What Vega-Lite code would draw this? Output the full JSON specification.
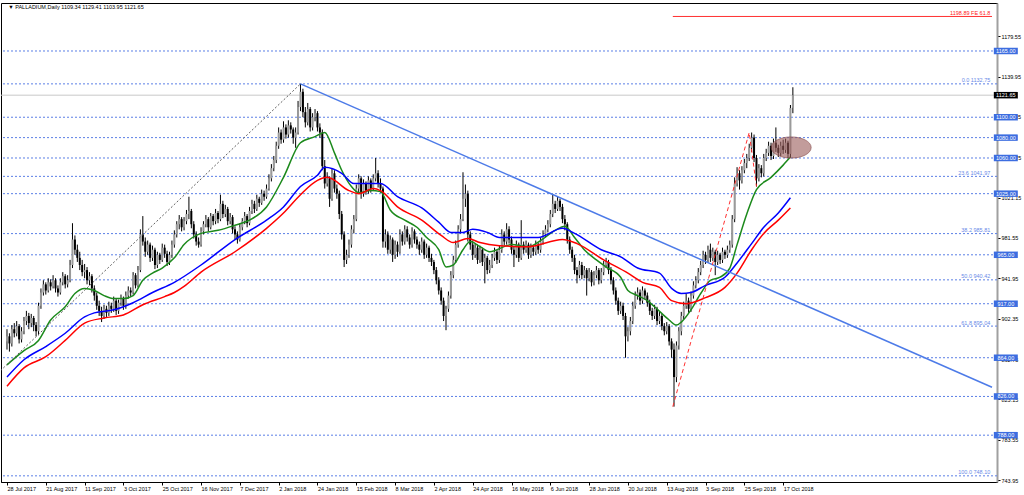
{
"$schema": "https://vega.github.io/schema/vega-lite/v6.json",
"width": 996, "height": 479,
"autosize": {"type": "none"},
"padding": {"left": 1, "top": 3, "right": 27, "bottom": 13},
"background": "#ffffff",
"config": {"view": {"stroke": "#000000", "strokeWidth": 1}, "font": "Liberation Sans", "axis": {"titleOpacity": 0, "titleFontSize": 1, "titlePadding": 0}},
"datasets": {
"bars": [
{"i":0,"o":880,"h":892,"l":872,"c":885},{"i":1,"o":885,"h":888,"l":870,"c":878},{"i":2,"o":878,"h":896,"l":875,"c":892},{"i":3,"o":892,"h":898,"l":884,"c":888},{"i":4,"o":888,"h":900,"l":885,"c":895},{"i":5,"o":895,"h":897,"l":878,"c":882},{"i":6,"o":882,"h":894,"l":879,"c":890},{"i":7,"o":890,"h":904,"l":887,"c":900},{"i":8,"o":900,"h":910,"l":896,"c":905},{"i":9,"o":905,"h":908,"l":892,"c":898},
{"i":10,"o":898,"h":907,"l":894,"c":903},{"i":11,"o":903,"h":905,"l":890,"c":896},{"i":12,"o":896,"h":899,"l":885,"c":890},{"i":13,"o":890,"h":918,"l":886,"c":915},{"i":14,"o":915,"h":932,"l":912,"c":928},{"i":15,"o":928,"h":940,"l":925,"c":936},{"i":16,"o":936,"h":938,"l":926,"c":930},{"i":17,"o":930,"h":942,"l":928,"c":938},{"i":18,"o":938,"h":941,"l":930,"c":934},{"i":19,"o":934,"h":945,"l":932,"c":940},
{"i":20,"o":940,"h":942,"l":928,"c":932},{"i":21,"o":932,"h":935,"l":924,"c":928},{"i":22,"o":928,"h":942,"l":926,"c":938},{"i":23,"o":938,"h":948,"l":935,"c":944},{"i":24,"o":944,"h":946,"l":932,"c":936},{"i":25,"o":936,"h":945,"l":933,"c":940},{"i":26,"o":940,"h":960,"l":938,"c":955},{"i":27,"o":955,"h":996,"l":952,"c":980},{"i":28,"o":980,"h":984,"l":965,"c":970},{"i":29,"o":970,"h":975,"l":958,"c":962},
{"i":30,"o":962,"h":968,"l":950,"c":955},{"i":31,"o":955,"h":960,"l":944,"c":948},{"i":32,"o":948,"h":956,"l":942,"c":950},{"i":33,"o":950,"h":953,"l":936,"c":940},{"i":34,"o":940,"h":948,"l":935,"c":944},{"i":35,"o":944,"h":946,"l":928,"c":932},{"i":36,"o":932,"h":935,"l":920,"c":925},{"i":37,"o":925,"h":928,"l":911,"c":915},{"i":38,"o":915,"h":920,"l":905,"c":910},{"i":39,"o":910,"h":914,"l":899,"c":905},
{"i":40,"o":905,"h":916,"l":902,"c":912},{"i":41,"o":912,"h":915,"l":904,"c":908},{"i":42,"o":908,"h":919,"l":905,"c":915},{"i":43,"o":915,"h":918,"l":908,"c":912},{"i":44,"o":912,"h":924,"l":909,"c":920},{"i":45,"o":920,"h":922,"l":906,"c":910},{"i":46,"o":910,"h":921,"l":907,"c":918},{"i":47,"o":918,"h":926,"l":915,"c":922},{"i":48,"o":922,"h":924,"l":911,"c":915},{"i":49,"o":915,"h":929,"l":912,"c":925},
{"i":50,"o":925,"h":934,"l":922,"c":930},{"i":51,"o":930,"h":933,"l":924,"c":928},{"i":52,"o":928,"h":948,"l":926,"c":945},{"i":53,"o":945,"h":947,"l":932,"c":935},{"i":54,"o":935,"h":954,"l":933,"c":950},{"i":55,"o":950,"h":990,"l":948,"c":985},{"i":56,"o":985,"h":1003,"l":974,"c":978},{"i":57,"o":978,"h":982,"l":963,"c":968},{"i":58,"o":968,"h":979,"l":965,"c":975},{"i":59,"o":975,"h":977,"l":958,"c":962},
{"i":60,"o":962,"h":974,"l":959,"c":970},{"i":61,"o":970,"h":972,"l":951,"c":955},{"i":62,"o":955,"h":968,"l":952,"c":965},{"i":63,"o":965,"h":967,"l":956,"c":960},{"i":64,"o":960,"h":976,"l":958,"c":972},{"i":65,"o":972,"h":975,"l":962,"c":966},{"i":66,"o":966,"h":969,"l":954,"c":958},{"i":67,"o":958,"h":968,"l":955,"c":965},{"i":68,"o":965,"h":979,"l":962,"c":975},{"i":69,"o":975,"h":989,"l":972,"c":985},
{"i":70,"o":985,"h":998,"l":982,"c":995},{"i":71,"o":995,"h":1004,"l":990,"c":1000},{"i":72,"o":1000,"h":1002,"l":988,"c":992},{"i":73,"o":992,"h":1002,"l":989,"c":998},{"i":74,"o":998,"h":1009,"l":995,"c":1005},{"i":75,"o":1005,"h":1022,"l":1000,"c":1008},{"i":76,"o":1008,"h":1010,"l":991,"c":995},{"i":77,"o":995,"h":998,"l":981,"c":985},{"i":78,"o":985,"h":988,"l":974,"c":978},{"i":79,"o":978,"h":982,"l":972,"c":975},
{"i":80,"o":975,"h":992,"l":973,"c":988},{"i":81,"o":988,"h":998,"l":985,"c":995},{"i":82,"o":995,"h":1004,"l":992,"c":1000},{"i":83,"o":1000,"h":1002,"l":988,"c":992},{"i":84,"o":992,"h":1006,"l":990,"c":1003},{"i":85,"o":1003,"h":1005,"l":994,"c":998},{"i":86,"o":998,"h":1010,"l":995,"c":1006},{"i":87,"o":1006,"h":1008,"l":996,"c":1000},{"i":88,"o":1000,"h":1024,"l":998,"c":1015},{"i":89,"o":1015,"h":1018,"l":1001,"c":1005},
{"i":90,"o":1005,"h":1014,"l":1002,"c":1010},{"i":91,"o":1010,"h":1012,"l":994,"c":998},{"i":92,"o":998,"h":1006,"l":995,"c":1002},{"i":93,"o":1002,"h":1004,"l":986,"c":990},{"i":94,"o":990,"h":993,"l":980,"c":985},{"i":95,"o":985,"h":988,"l":976,"c":980},{"i":96,"o":980,"h":996,"l":978,"c":992},{"i":97,"o":992,"h":1001,"l":989,"c":998},{"i":98,"o":998,"h":1007,"l":995,"c":1003},{"i":99,"o":1003,"h":1005,"l":992,"c":996},
{"i":100,"o":996,"h":1012,"l":994,"c":1008},{"i":101,"o":1008,"h":1019,"l":1005,"c":1015},{"i":102,"o":1015,"h":1018,"l":1006,"c":1010},{"i":103,"o":1010,"h":1024,"l":1008,"c":1020},{"i":104,"o":1020,"h":1022,"l":1012,"c":1016},{"i":105,"o":1016,"h":1029,"l":1014,"c":1025},{"i":106,"o":1025,"h":1028,"l":1018,"c":1022},{"i":107,"o":1022,"h":1034,"l":1020,"c":1030},{"i":108,"o":1030,"h":1044,"l":1028,"c":1040},{"i":109,"o":1040,"h":1054,"l":1037,"c":1050},
{"i":110,"o":1050,"h":1062,"l":1047,"c":1058},{"i":111,"o":1058,"h":1076,"l":1055,"c":1072},{"i":112,"o":1072,"h":1090,"l":1069,"c":1085},{"i":113,"o":1085,"h":1088,"l":1074,"c":1078},{"i":114,"o":1078,"h":1096,"l":1075,"c":1090},{"i":115,"o":1090,"h":1093,"l":1079,"c":1083},{"i":116,"o":1083,"h":1097,"l":1080,"c":1092},{"i":117,"o":1092,"h":1095,"l":1084,"c":1088},{"i":118,"o":1088,"h":1090,"l":1074,"c":1080},{"i":119,"o":1080,"h":1090,"l":1070,"c":1085},
{"i":120,"o":1085,"h":1116,"l":1083,"c":1110},{"i":121,"o":1110,"h":1132.75,"l":1106,"c":1125},{"i":122,"o":1125,"h":1128,"l":1100,"c":1105},{"i":123,"o":1105,"h":1110,"l":1090,"c":1095},{"i":124,"o":1095,"h":1114,"l":1092,"c":1108},{"i":125,"o":1108,"h":1110,"l":1086,"c":1090},{"i":126,"o":1090,"h":1104,"l":1087,"c":1100},{"i":127,"o":1100,"h":1108,"l":1096,"c":1104},{"i":128,"o":1104,"h":1106,"l":1086,"c":1090},{"i":129,"o":1090,"h":1094,"l":1080,"c":1085},
{"i":130,"o":1085,"h":1088,"l":1048,"c":1052},{"i":131,"o":1052,"h":1058,"l":1030,"c":1035},{"i":132,"o":1035,"h":1046,"l":1032,"c":1040},{"i":133,"o":1040,"h":1042,"l":1012,"c":1020},{"i":134,"o":1020,"h":1050,"l":1018,"c":1045},{"i":135,"o":1045,"h":1048,"l":1026,"c":1030},{"i":136,"o":1030,"h":1034,"l":1020,"c":1025},{"i":137,"o":1025,"h":1028,"l":1000,"c":1005},{"i":138,"o":1005,"h":1008,"l":980,"c":985},{"i":139,"o":985,"h":988,"l":953,"c":960},
{"i":140,"o":960,"h":970,"l":956,"c":965},{"i":141,"o":965,"h":980,"l":962,"c":975},{"i":142,"o":975,"h":994,"l":972,"c":990},{"i":143,"o":990,"h":1004,"l":986,"c":1000},{"i":144,"o":1000,"h":1034,"l":998,"c":1030},{"i":145,"o":1030,"h":1044,"l":1026,"c":1040},{"i":146,"o":1040,"h":1042,"l":1020,"c":1025},{"i":147,"o":1025,"h":1039,"l":1022,"c":1035},{"i":148,"o":1035,"h":1037,"l":1024,"c":1028},{"i":149,"o":1028,"h":1042,"l":1025,"c":1038},
{"i":150,"o":1038,"h":1040,"l":1026,"c":1030},{"i":151,"o":1030,"h":1044,"l":1028,"c":1040},{"i":152,"o":1040,"h":1060,"l":1037,"c":1045},{"i":153,"o":1045,"h":1048,"l":1031,"c":1035},{"i":154,"o":1035,"h":1040,"l":1026,"c":1030},{"i":155,"o":1030,"h":1032,"l":972,"c":978},{"i":156,"o":978,"h":990,"l":972,"c":985},{"i":157,"o":985,"h":988,"l":966,"c":970},{"i":158,"o":970,"h":984,"l":966,"c":980},{"i":159,"o":980,"h":982,"l":958,"c":965},
{"i":160,"o":965,"h":979,"l":961,"c":975},{"i":161,"o":975,"h":978,"l":963,"c":968},{"i":162,"o":968,"h":990,"l":966,"c":985},{"i":163,"o":985,"h":988,"l":974,"c":978},{"i":164,"o":978,"h":994,"l":975,"c":990},{"i":165,"o":990,"h":993,"l":978,"c":982},{"i":166,"o":982,"h":985,"l":971,"c":975},{"i":167,"o":975,"h":992,"l":972,"c":988},{"i":168,"o":988,"h":990,"l":976,"c":980},{"i":169,"o":980,"h":983,"l":971,"c":975},
{"i":170,"o":975,"h":978,"l":965,"c":970},{"i":171,"o":970,"h":982,"l":967,"c":978},{"i":172,"o":978,"h":980,"l":961,"c":965},{"i":173,"o":965,"h":976,"l":962,"c":972},{"i":174,"o":972,"h":974,"l":958,"c":962},{"i":175,"o":962,"h":966,"l":954,"c":958},{"i":176,"o":958,"h":960,"l":946,"c":950},{"i":177,"o":950,"h":953,"l":936,"c":940},{"i":178,"o":940,"h":943,"l":926,"c":930},{"i":179,"o":930,"h":933,"l":916,"c":920},
{"i":180,"o":920,"h":923,"l":900,"c":905},{"i":181,"o":905,"h":915,"l":891,"c":912},{"i":182,"o":912,"h":929,"l":909,"c":925},{"i":183,"o":925,"h":949,"l":922,"c":945},{"i":184,"o":945,"h":964,"l":942,"c":960},{"i":185,"o":960,"h":979,"l":957,"c":975},{"i":186,"o":975,"h":994,"l":972,"c":990},{"i":187,"o":990,"h":1005,"l":986,"c":1000},{"i":188,"o":1000,"h":1046,"l":998,"c":1020},{"i":189,"o":1020,"h":1034,"l":1012,"c":1025},
{"i":190,"o":1025,"h":1028,"l":978,"c":985},{"i":191,"o":985,"h":988,"l":970,"c":975},{"i":192,"o":975,"h":979,"l":960,"c":965},{"i":193,"o":965,"h":976,"l":962,"c":972},{"i":194,"o":972,"h":975,"l":956,"c":960},{"i":195,"o":960,"h":974,"l":957,"c":970},{"i":196,"o":970,"h":972,"l":954,"c":958},{"i":197,"o":958,"h":966,"l":937,"c":962},{"i":198,"o":962,"h":964,"l":946,"c":950},{"i":199,"o":950,"h":960,"l":947,"c":955},
{"i":200,"o":955,"h":966,"l":952,"c":962},{"i":201,"o":962,"h":972,"l":959,"c":968},{"i":202,"o":968,"h":970,"l":956,"c":960},{"i":203,"o":960,"h":974,"l":957,"c":970},{"i":204,"o":970,"h":990,"l":967,"c":985},{"i":205,"o":985,"h":988,"l":974,"c":978},{"i":206,"o":978,"h":996,"l":975,"c":990},{"i":207,"o":990,"h":993,"l":976,"c":980},{"i":208,"o":980,"h":983,"l":966,"c":970},{"i":209,"o":970,"h":973,"l":953,"c":965},
{"i":210,"o":965,"h":979,"l":962,"c":975},{"i":211,"o":975,"h":977,"l":958,"c":962},{"i":212,"o":962,"h":999,"l":960,"c":975},{"i":213,"o":975,"h":978,"l":966,"c":970},{"i":214,"o":970,"h":979,"l":967,"c":975},{"i":215,"o":975,"h":977,"l":961,"c":965},{"i":216,"o":965,"h":976,"l":962,"c":972},{"i":217,"o":972,"h":974,"l":964,"c":968},{"i":218,"o":968,"h":979,"l":965,"c":975},{"i":219,"o":975,"h":977,"l":966,"c":970},
{"i":220,"o":970,"h":982,"l":967,"c":978},{"i":221,"o":978,"h":989,"l":975,"c":985},{"i":222,"o":985,"h":994,"l":982,"c":990},{"i":223,"o":990,"h":999,"l":987,"c":995},{"i":224,"o":995,"h":1009,"l":992,"c":1005},{"i":225,"o":1005,"h":1024,"l":1002,"c":1015},{"i":226,"o":1015,"h":1018,"l":1006,"c":1010},{"i":227,"o":1010,"h":1022,"l":1008,"c":1018},{"i":228,"o":1018,"h":1020,"l":1008,"c":1012},{"i":229,"o":1012,"h":1015,"l":996,"c":1000},
{"i":230,"o":1000,"h":1004,"l":989,"c":995},{"i":231,"o":995,"h":997,"l":976,"c":980},{"i":232,"o":980,"h":983,"l":966,"c":970},{"i":233,"o":970,"h":973,"l":958,"c":962},{"i":234,"o":962,"h":965,"l":946,"c":950},{"i":235,"o":950,"h":953,"l":937,"c":945},{"i":236,"o":945,"h":959,"l":942,"c":955},{"i":237,"o":955,"h":958,"l":941,"c":945},{"i":238,"o":945,"h":954,"l":942,"c":950},{"i":239,"o":950,"h":952,"l":925,"c":942},
{"i":240,"o":942,"h":952,"l":939,"c":948},{"i":241,"o":948,"h":950,"l":934,"c":938},{"i":242,"o":938,"h":949,"l":935,"c":945},{"i":243,"o":945,"h":954,"l":942,"c":950},{"i":244,"o":950,"h":952,"l":936,"c":940},{"i":245,"o":940,"h":952,"l":937,"c":948},{"i":246,"o":948,"h":959,"l":945,"c":955},{"i":247,"o":955,"h":962,"l":952,"c":958},{"i":248,"o":958,"h":960,"l":946,"c":950},{"i":249,"o":950,"h":953,"l":936,"c":940},
{"i":250,"o":940,"h":943,"l":926,"c":930},{"i":251,"o":930,"h":933,"l":916,"c":920},{"i":252,"o":920,"h":923,"l":906,"c":910},{"i":253,"o":910,"h":919,"l":907,"c":915},{"i":254,"o":915,"h":918,"l":901,"c":905},{"i":255,"o":905,"h":908,"l":864,"c":885},{"i":256,"o":885,"h":894,"l":880,"c":890},{"i":257,"o":890,"h":904,"l":886,"c":900},{"i":258,"o":900,"h":919,"l":897,"c":915},{"i":259,"o":915,"h":929,"l":912,"c":925},
{"i":260,"o":925,"h":933,"l":921,"c":928},{"i":261,"o":928,"h":931,"l":916,"c":920},{"i":262,"o":920,"h":934,"l":917,"c":930},{"i":263,"o":930,"h":932,"l":921,"c":925},{"i":264,"o":925,"h":928,"l":914,"c":918},{"i":265,"o":918,"h":921,"l":906,"c":910},{"i":266,"o":910,"h":913,"l":901,"c":905},{"i":267,"o":905,"h":916,"l":902,"c":912},{"i":268,"o":912,"h":914,"l":896,"c":900},{"i":269,"o":900,"h":909,"l":897,"c":905},
{"i":270,"o":905,"h":907,"l":891,"c":895},{"i":271,"o":895,"h":898,"l":886,"c":890},{"i":272,"o":890,"h":899,"l":887,"c":895},{"i":273,"o":895,"h":897,"l":876,"c":880},{"i":274,"o":880,"h":883,"l":864,"c":872},{"i":275,"o":872,"h":878,"l":816,"c":845},{"i":276,"o":845,"h":880,"l":840,"c":876},{"i":277,"o":876,"h":894,"l":872,"c":890},{"i":278,"o":890,"h":909,"l":886,"c":905},{"i":279,"o":905,"h":919,"l":902,"c":915},
{"i":280,"o":915,"h":927,"l":912,"c":920},{"i":281,"o":920,"h":923,"l":908,"c":912},{"i":282,"o":912,"h":929,"l":909,"c":925},{"i":283,"o":925,"h":939,"l":922,"c":935},{"i":284,"o":935,"h":944,"l":932,"c":940},{"i":285,"o":940,"h":952,"l":937,"c":948},{"i":286,"o":948,"h":959,"l":945,"c":955},{"i":287,"o":955,"h":969,"l":952,"c":965},{"i":288,"o":965,"h":968,"l":956,"c":960},{"i":289,"o":960,"h":974,"l":957,"c":970},
{"i":290,"o":970,"h":976,"l":958,"c":962},{"i":291,"o":962,"h":972,"l":959,"c":968},{"i":292,"o":968,"h":970,"l":945,"c":958},{"i":293,"o":958,"h":969,"l":955,"c":965},{"i":294,"o":965,"h":967,"l":956,"c":960},{"i":295,"o":960,"h":972,"l":957,"c":968},{"i":296,"o":968,"h":970,"l":961,"c":965},{"i":297,"o":965,"h":974,"l":962,"c":970},{"i":298,"o":970,"h":979,"l":967,"c":975},{"i":299,"o":975,"h":1004,"l":972,"c":1000},
{"i":300,"o":1000,"h":1041,"l":997,"c":1035},{"i":301,"o":1035,"h":1051,"l":1032,"c":1045},{"i":302,"o":1045,"h":1048,"l":1029,"c":1038},{"i":303,"o":1038,"h":1052,"l":1035,"c":1048},{"i":304,"o":1048,"h":1059,"l":1045,"c":1055},{"i":305,"o":1055,"h":1064,"l":1050,"c":1060},{"i":306,"o":1060,"h":1074,"l":1057,"c":1070},{"i":307,"o":1070,"h":1085,"l":1066,"c":1080},{"i":308,"o":1080,"h":1083,"l":1056,"c":1060},{"i":309,"o":1060,"h":1063,"l":1032,"c":1040},
{"i":310,"o":1040,"h":1054,"l":1037,"c":1050},{"i":311,"o":1050,"h":1053,"l":1041,"c":1045},{"i":312,"o":1045,"h":1064,"l":1042,"c":1060},{"i":313,"o":1060,"h":1069,"l":1057,"c":1065},{"i":314,"o":1065,"h":1076,"l":1062,"c":1072},{"i":315,"o":1072,"h":1075,"l":1058,"c":1062},{"i":316,"o":1062,"h":1079,"l":1059,"c":1075},{"i":317,"o":1075,"h":1090,"l":1066,"c":1070},{"i":318,"o":1070,"h":1073,"l":1061,"c":1065},{"i":319,"o":1065,"h":1076,"l":1062,"c":1072},
{"i":320,"o":1072,"h":1078,"l":1064,"c":1068},{"i":321,"o":1068,"h":1079,"l":1065,"c":1075},{"i":322,"o":1075,"h":1077,"l":1060,"c":1064},{"i":323,"o":1064,"h":1112,"l":1060,"c":1109},{"i":324,"o":1109.34,"h":1129.41,"l":1103.95,"c":1121.65}
],
"ma": [
{"s":"g","i":0,"v":857},{"s":"g","i":7,"v":871},{"s":"g","i":13,"v":881},{"s":"g","i":18,"v":901},{"s":"g","i":24,"v":914},{"s":"g","i":28,"v":927},{"s":"g","i":32,"v":932},{"s":"g","i":36,"v":930},{"s":"g","i":40,"v":925},{"s":"g","i":44,"v":922},{"s":"g","i":48,"v":922},{"s":"g","i":52,"v":925},{"s":"g","i":56,"v":940},{"s":"g","i":60,"v":947},{"s":"g","i":64,"v":952},{"s":"g","i":69,"v":962},{"s":"g","i":73,"v":975},{"s":"g","i":80,"v":986},{"s":"g","i":87,"v":989},{"s":"g","i":94,"v":994},{"s":"g","i":100,"v":999},{"s":"g","i":107,"v":1012},{"s":"g","i":114,"v":1041},{"s":"g","i":121,"v":1075},{"s":"g","i":127,"v":1081},{"s":"g","i":131,"v":1085},{"s":"g","i":135,"v":1065},{"s":"g","i":138,"v":1048},{"s":"g","i":142,"v":1032},{"s":"g","i":145,"v":1026},{"s":"g","i":150,"v":1028},{"s":"g","i":154,"v":1027},{"s":"g","i":158,"v":1009},{"s":"g","i":164,"v":999},{"s":"g","i":169,"v":992},{"s":"g","i":173,"v":982},{"s":"g","i":178,"v":970},{"s":"g","i":181,"v":953},{"s":"g","i":184,"v":955},{"s":"g","i":188,"v":970},{"s":"g","i":191,"v":978},{"s":"g","i":195,"v":973},{"s":"g","i":199,"v":968},{"s":"g","i":208,"v":975},{"s":"g","i":215,"v":973},{"s":"g","i":220,"v":979},{"s":"g","i":226,"v":989},{"s":"g","i":230,"v":993},{"s":"g","i":234,"v":982},{"s":"g","i":238,"v":970},{"s":"g","i":243,"v":960},{"s":"g","i":247,"v":953},{"s":"g","i":253,"v":943},{"s":"g","i":256,"v":930},{"s":"g","i":260,"v":925},{"s":"g","i":264,"v":920},{"s":"g","i":267,"v":914},{"s":"g","i":273,"v":901},{"s":"g","i":276,"v":896},{"s":"g","i":278,"v":899},{"s":"g","i":282,"v":911},{"s":"g","i":286,"v":927},{"s":"g","i":290,"v":940},{"s":"g","i":294,"v":943},{"s":"g","i":298,"v":952},{"s":"g","i":301,"v":975},{"s":"g","i":305,"v":1005},{"s":"g","i":309,"v":1029},{"s":"g","i":315,"v":1041},{"s":"g","i":320,"v":1053},{"s":"g","i":323,"v":1061},
{"s":"b","i":0,"v":845},{"s":"b","i":7,"v":862},{"s":"b","i":16,"v":875},{"s":"b","i":24,"v":888},{"s":"b","i":32,"v":904},{"s":"b","i":36,"v":908},{"s":"b","i":44,"v":911},{"s":"b","i":52,"v":918},{"s":"b","i":60,"v":928},{"s":"b","i":69,"v":938},{"s":"b","i":80,"v":955},{"s":"b","i":94,"v":980},{"s":"b","i":107,"v":999},{"s":"b","i":114,"v":1012},{"s":"b","i":121,"v":1032},{"s":"b","i":128,"v":1043},{"s":"b","i":131,"v":1051},{"s":"b","i":138,"v":1045},{"s":"b","i":143,"v":1035},{"s":"b","i":150,"v":1035},{"s":"b","i":154,"v":1035},{"s":"b","i":161,"v":1022},{"s":"b","i":171,"v":1011},{"s":"b","i":178,"v":997},{"s":"b","i":183,"v":987},{"s":"b","i":188,"v":987},{"s":"b","i":192,"v":990},{"s":"b","i":198,"v":987},{"s":"b","i":203,"v":982},{"s":"b","i":219,"v":982},{"s":"b","i":229,"v":991},{"s":"b","i":234,"v":986},{"s":"b","i":245,"v":970},{"s":"b","i":253,"v":963},{"s":"b","i":260,"v":952},{"s":"b","i":269,"v":947},{"s":"b","i":274,"v":932},{"s":"b","i":278,"v":927},{"s":"b","i":282,"v":928},{"s":"b","i":288,"v":935},{"s":"b","i":296,"v":943},{"s":"b","i":301,"v":957},{"s":"b","i":307,"v":976},{"s":"b","i":312,"v":992},{"s":"b","i":318,"v":1006},{"s":"b","i":323,"v":1021},
{"s":"r","i":0,"v":836},{"s":"r","i":7,"v":854},{"s":"r","i":16,"v":865},{"s":"r","i":24,"v":881},{"s":"r","i":32,"v":898},{"s":"r","i":40,"v":903},{"s":"r","i":48,"v":906},{"s":"r","i":56,"v":916},{"s":"r","i":65,"v":924},{"s":"r","i":69,"v":928},{"s":"r","i":73,"v":934},{"s":"r","i":80,"v":948},{"s":"r","i":94,"v":968},{"s":"r","i":107,"v":991},{"s":"r","i":114,"v":1006},{"s":"r","i":121,"v":1024},{"s":"r","i":128,"v":1038},{"s":"r","i":132,"v":1041},{"s":"r","i":141,"v":1028},{"s":"r","i":145,"v":1025},{"s":"r","i":151,"v":1030},{"s":"r","i":154,"v":1028},{"s":"r","i":161,"v":1012},{"s":"r","i":171,"v":999},{"s":"r","i":179,"v":984},{"s":"r","i":184,"v":977},{"s":"r","i":190,"v":981},{"s":"r","i":195,"v":977},{"s":"r","i":203,"v":974},{"s":"r","i":215,"v":973},{"s":"r","i":229,"v":980},{"s":"r","i":235,"v":976},{"s":"r","i":246,"v":960},{"s":"r","i":256,"v":947},{"s":"r","i":262,"v":938},{"s":"r","i":269,"v":933},{"s":"r","i":274,"v":920},{"s":"r","i":280,"v":917},{"s":"r","i":288,"v":923},{"s":"r","i":296,"v":933},{"s":"r","i":301,"v":947},{"s":"r","i":307,"v":970},{"s":"r","i":312,"v":986},{"s":"r","i":318,"v":999},{"s":"r","i":323,"v":1011}
]
},
"layer": [
{
"data": {"values": [{"p":1165},{"p":1100},{"p":1080},{"p":1060},{"p":1025},{"p":965},{"p":917},{"p":864},{"p":826},{"p":788},{"p":1132.75},{"p":1041.97},{"p":985.81},{"p":940.42},{"p":895.04},{"p":748.1}]},
"mark": {"type": "rule", "color": "#5b7fe6", "strokeDash": [2, 2], "strokeWidth": 1},
"encoding": {
"y": {"field": "p", "type": "quantitative", "scale": {"type": "linear", "domain": [742.05, 1212.1], "nice": false, "zero": false},
"axis": {"orient": "right", "title": null, "grid": false, "values": [743.95,763.75,783.55,803.35,823.15,842.95,862.75,882.55,902.35,922.15,941.95,961.75,981.55,1001.35,1021.15,1040.95,1060.75,1080.55,1100.35,1120.15,1139.95,1159.75,1179.55,1199.35], "format": ".2f", "labelFontSize": 5.5, "labelColor": "#000000", "tickSize": 3, "tickColor": "#000000", "domainColor": "#a0a0a0", "domainWidth": 2, "labelPadding": 1, "labelOverlap": false, "labelBound": false, "labelFlush": false}}
}
},
{
"data": {"values": [{"p":1121.65}]},
"mark": {"type": "rule", "color": "#c8c8c8", "strokeWidth": 1},
"encoding": {"y": {"field": "p", "type": "quantitative", "scale": {"type": "linear", "domain": [742.05, 1212.1], "nice": false, "zero": false}}}
},
{
"data": {"values": [{"a":274.5,"b":406.1,"p":1198.89}]},
"mark": {"type": "rule", "color": "#ff3030", "strokeWidth": 1},
"encoding": {
"x": {"field": "a", "type": "quantitative", "scale": {"type": "linear", "domain": [-0.41, 406.1], "nice": false, "zero": false}},
"x2": {"field": "b"},
"y": {"field": "p", "type": "quantitative", "scale": {"type": "linear", "domain": [742.05, 1212.1], "nice": false, "zero": false}}
}
},
{
"data": {"name": "bars"},
"mark": {"type": "rule", "strokeWidth": 1, "color": "#000000"},
"encoding": {
"x": {"field": "i", "type": "quantitative", "scale": {"type": "linear", "domain": [-0.41, 406.1], "nice": false, "zero": false},
"axis": {"orient": "bottom", "title": null, "grid": false, "values": [0,16,32,48,64,80,96,112,128,144,160,176,192,208,224,240,256,272,288,304,320], "labelExpr": "['28 Jul 2017','21 Aug 2017','11 Sep 2017','3 Oct 2017','25 Oct 2017','16 Nov 2017','7 Dec 2017','2 Jan 2018','24 Jan 2018','15 Feb 2018','8 Mar 2018','2 Apr 2018','24 Apr 2018','16 May 2018','6 Jun 2018','28 Jun 2018','20 Jul 2018','13 Aug 2018','3 Sep 2018','25 Sep 2018','17 Oct 2018'][round(datum.value/16)]", "labelAlign": "left", "labelFontSize": 5.5, "labelColor": "#000000", "tickSize": 3, "tickColor": "#000000", "domainColor": "#000000", "labelPadding": 1, "labelOverlap": false, "labelBound": false, "labelFlush": false}},
"y": {"field": "l", "type": "quantitative", "scale": {"type": "linear", "domain": [742.05, 1212.1], "nice": false, "zero": false}},
"y2": {"field": "h"}
}
},
{
"data": {"name": "bars"},
"mark": {"type": "bar", "size": 2},
"encoding": {
"x": {"field": "i", "type": "quantitative", "scale": {"type": "linear", "domain": [-0.41, 406.1], "nice": false, "zero": false}},
"y": {"field": "o", "type": "quantitative", "scale": {"type": "linear", "domain": [742.05, 1212.1], "nice": false, "zero": false}},
"y2": {"field": "c"},
"color": {"condition": {"test": "datum.c >= datum.o", "value": "#9a9a9a"}, "value": "#000000"}
}
},
{
"data": {"name": "ma"},
"mark": {"type": "line", "strokeWidth": 1.5, "interpolate": "monotone"},
"encoding": {
"x": {"field": "i", "type": "quantitative", "scale": {"type": "linear", "domain": [-0.41, 406.1], "nice": false, "zero": false}},
"y": {"field": "v", "type": "quantitative", "scale": {"type": "linear", "domain": [742.05, 1212.1], "nice": false, "zero": false}},
"color": {"field": "s", "type": "nominal", "scale": {"domain": ["g","b","r"], "range": ["#1c8a1c","#0000ff","#ff0000"]}, "legend": null}
}
},
{
"data": {"values": [{"i":121,"v":1132.75},{"i":406.1,"v":835}]},
"mark": {"type": "line", "color": "#4d7be8", "strokeWidth": 1.5},
"encoding": {
"x": {"field": "i", "type": "quantitative", "scale": {"type": "linear", "domain": [-0.41, 406.1], "nice": false, "zero": false}},
"y": {"field": "v", "type": "quantitative", "scale": {"type": "linear", "domain": [742.05, 1212.1], "nice": false, "zero": false}}
}
},
{
"data": {"values": [{"i":-48,"v":748.1},{"i":121,"v":1132.75}]},
"mark": {"type": "line", "color": "#606060", "strokeWidth": 1, "strokeDash": [2, 2], "clip": true},
"encoding": {
"x": {"field": "i", "type": "quantitative", "scale": {"type": "linear", "domain": [-0.41, 406.1], "nice": false, "zero": false}},
"y": {"field": "v", "type": "quantitative", "scale": {"type": "linear", "domain": [742.05, 1212.1], "nice": false, "zero": false}}
}
},
{
"data": {"values": [{"k":0,"i":274.5,"v":816},{"k":1,"i":306,"v":1085},{"k":2,"i":309,"v":1032}]},
"mark": {"type": "line", "color": "#ff3030", "strokeWidth": 1, "strokeDash": [4, 3]},
"encoding": {
"x": {"field": "i", "type": "quantitative", "scale": {"type": "linear", "domain": [-0.41, 406.1], "nice": false, "zero": false}},
"y": {"field": "v", "type": "quantitative", "scale": {"type": "linear", "domain": [742.05, 1212.1], "nice": false, "zero": false}},
"order": {"field": "k"}
}
},
{
"data": {"values": [{"i":323.3,"v":1070.3}]},
"mark": {"type": "point", "shape": "M-1,0A1,0.53,0,1,0,1,0A1,0.53,0,1,0,-1,0Z", "size": 1600, "filled": true, "fill": "#9a5a58", "fillOpacity": 0.6, "stroke": "#8a5050", "strokeWidth": 0.8, "strokeOpacity": 0.8},
"encoding": {
"x": {"field": "i", "type": "quantitative", "scale": {"type": "linear", "domain": [-0.41, 406.1], "nice": false, "zero": false}},
"y": {"field": "v", "type": "quantitative", "scale": {"type": "linear", "domain": [742.05, 1212.1], "nice": false, "zero": false}}
}
},
{
"data": {"values": [{"p":1165,"t":"1165.00","k":"b"},{"p":1100,"t":"1100.00","k":"b"},{"p":1080,"t":"1080.00","k":"b"},{"p":1060,"t":"1060.00","k":"b"},{"p":1025,"t":"1025.00","k":"b"},{"p":965,"t":"965.00","k":"b"},{"p":917,"t":"917.00","k":"b"},{"p":864,"t":"864.00","k":"b"},{"p":826,"t":"826.00","k":"b"},{"p":788,"t":"788.00","k":"b"},{"p":1121.65,"t":"1121.65","k":"k"}]},
"layer": [
{
"mark": {"type": "point", "shape": "M-1,-0.27H1V0.27H-1Z", "size": 576, "filled": true, "opacity": 1},
"encoding": {
"x": {"datum": 411.8, "type": "quantitative", "scale": {"type": "linear", "domain": [-0.41, 406.1], "nice": false, "zero": false}},
"y": {"field": "p", "type": "quantitative", "scale": {"type": "linear", "domain": [742.05, 1212.1], "nice": false, "zero": false}},
"color": {"field": "k", "type": "nominal", "scale": {"domain": ["b","k"], "range": ["#3c6de0","#000000"]}, "legend": null}
}
},
{
"mark": {"type": "text", "fontSize": 5.5, "color": "#ffffff", "align": "center", "baseline": "middle"},
"encoding": {
"x": {"datum": 411.8, "type": "quantitative", "scale": {"type": "linear", "domain": [-0.41, 406.1], "nice": false, "zero": false}},
"y": {"field": "p", "type": "quantitative", "scale": {"type": "linear", "domain": [742.05, 1212.1], "nice": false, "zero": false}},
"text": {"field": "t"}
}
}
]
},
{
"data": {"values": [{"p":1132.75,"t":"0.0 1132.75","k":"f"},{"p":1041.97,"t":"23.6 1041.97","k":"f"},{"p":985.81,"t":"38.2 985.81","k":"f"},{"p":940.42,"t":"50.0 940.42","k":"f"},{"p":895.04,"t":"61.8 895.04","k":"f"},{"p":748.1,"t":"100.0 748.10","k":"f"},{"p":1198.89,"t":"1198.89 FE 61.8","k":"e"}]},
"mark": {"type": "text", "fontSize": 5.5, "align": "right", "baseline": "bottom", "dy": -0.5},
"encoding": {
"x": {"datum": 405.4, "type": "quantitative", "scale": {"type": "linear", "domain": [-0.41, 406.1], "nice": false, "zero": false}},
"y": {"field": "p", "type": "quantitative", "scale": {"type": "linear", "domain": [742.05, 1212.1], "nice": false, "zero": false}},
"text": {"field": "t"},
"color": {"field": "k", "type": "nominal", "scale": {"domain": ["f","e"], "range": ["#6a8ae8","#ff2020"]}, "legend": null}
}
},
{
"data": {"values": [{"t":"▼  PALLADIUM,Daily  1109.34 1129.41 1103.95 1121.65"}]},
"mark": {"type": "text", "fontSize": 5.5, "align": "left", "baseline": "middle", "color": "#000000"},
"encoding": {
"x": {"datum": 0.5, "type": "quantitative", "scale": {"type": "linear", "domain": [-0.41, 406.1], "nice": false, "zero": false}},
"y": {"datum": 1208, "type": "quantitative", "scale": {"type": "linear", "domain": [742.05, 1212.1], "nice": false, "zero": false}},
"text": {"field": "t"}
}
}
],
"resolve": {"scale": {"color": "independent"}}
}
